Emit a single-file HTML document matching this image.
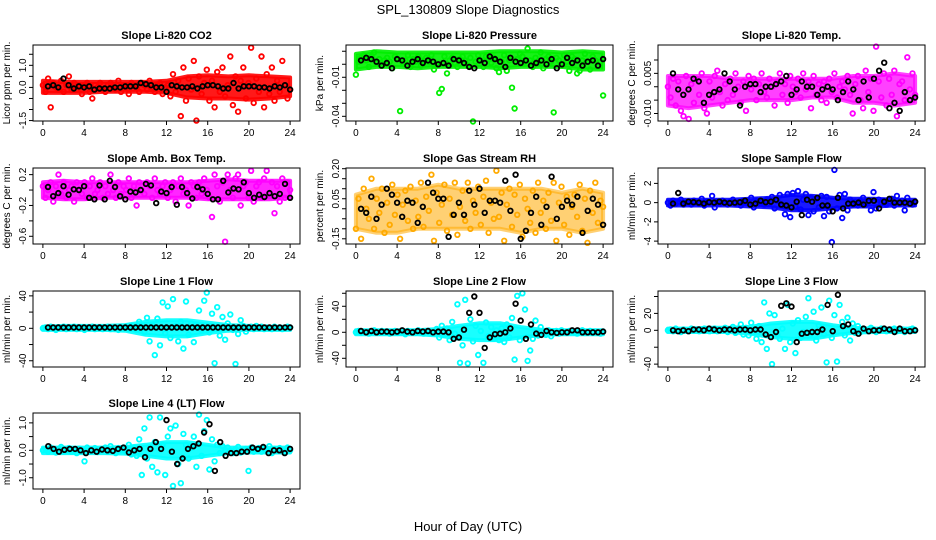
<!DOCTYPE html>
<html><head><meta charset="utf-8">
<style>
html,body{margin:0;padding:0;background:#fff;}
svg{display:block;font-family:"Liberation Sans",sans-serif;}
</style></head>
<body>
<svg id="chart" width="936" height="540" viewBox="0 0 936 540" xmlns="http://www.w3.org/2000/svg">
<text x="468" y="14" text-anchor="middle" font-size="13">SPL_130809  Slope Diagnostics</text>
<text x="468" y="531" text-anchor="middle" font-size="13">Hour of Day (UTC)</text>
<g id="panels"></g>
</svg>
<script>
const xTicks = [0,4,8,12,16,20,24];
const bandHours = [0,2,4,6,8,10,12,14,16,18,20,22,24];

const co2Col = [0.1,-0.2,0.4,-0.9,0.2,0,-0.1,0.3,-0.2,0.1,0.5,-0.1,0.2,-0.1,0,-0.3,0.1,0.2,-0.2,-0.5,0.1,0,0.2,-0.1,-0.2,0.1,0.2,0,-0.1,0.3,-0.2,0.1,0,-0.3,0.2,0.1,0,-0.2,0.2,0.1,-0.1,0.3,0,-0.2,0.1,0.2,-0.3,0,0.1,-0.4,0.6,-0.2,0.3,-1.3,0.9,-0.6,0.4,-0.1,1.2,-1.5,0.5,-0.3,0.2,0.8,-0.6,0.3,-0.9,0.7,-0.2,0.9,-0.4,0.1,1.4,-0.8,0.5,-1.1,0.3,0.9,-0.5,0.2,1.8,-0.7,0.4,-0.2,1.4,-0.9,0.6,-0.3,0.9,-0.6,0.3,-0.2,1.2,0.1,-0.5,-0.1];
const co2Blk = [0.05,0.1,0,0.4,0.1,-0.05,0.05,0,0.05,-0.1,-0.05,-0.05,-0.05,0,0,0.05,0.05,0.05,0.2,0.15,0.1,0,0,-0.2,0.1,0.05,0,0,0.05,-0.05,0.05,0.1,0.1,0.05,-0.05,-0.05,0.2,-0.05,0.05,0.05,0.05,0,0,-0.05,0.05,0,0.1,-0.1];
const co2Lo = [-0.25,-0.25,-0.25,-0.2,-0.2,-0.2,-0.25,-0.45,-0.5,-0.5,-0.55,-0.5,-0.4];
const co2Hi = [0.3,0.25,0.25,0.25,0.25,0.25,0.3,0.5,0.55,0.5,0.55,0.5,0.45];

const presCol = [-0.008,0.002,0.005,0.007,0.003,-0.002,0.006,0.009,0.001,0.004,-0.001,0.003,0.005,0.002,-0.003,0.006,0.004,-0.036,0.001,0.003,0.007,-0.002,0.004,0.002,0.006,-0.001,0.003,0.005,0.002,0.007,-0.004,0,-0.022,-0.019,0.006,-0.007,0.003,0.005,0.001,-0.002,0.004,0.006,0.003,-0.001,0.005,-0.044,0.002,0.007,0.003,-0.002,0.006,0.004,0.001,0.005,-0.003,-0.006,0.002,0.007,-0.005,0.003,-0.018,-0.034,0.004,0.008,0.006,0.002,0.012,0.003,-0.002,0.005,0.001,0.009,-0.003,0.004,0.006,0.002,-0.037,0.005,0.003,-0.001,0.007,0.002,-0.005,0.006,0.004,-0.007,-0.005,0.003,0.008,0.002,-0.004,0.006,0.003,-0.001,0.002,-0.024];
const presBlk = [0.003,0.005,0.004,0.002,-0.001,0.001,-0.003,0.004,0.003,-0.001,0.002,0.004,0.001,0.003,0.002,0,0.001,-0.001,0.004,0.003,0.001,-0.002,-0.003,0.003,0.001,0.006,0.004,0.002,-0.002,0.005,0.002,0.001,0.003,-0.001,0.001,0.003,0,0.004,-0.003,0,0.005,0.001,0.003,-0.001,0.002,0.003,-0.001,0.004];
const presLo = [-0.004,-0.002,-0.002,-0.003,-0.002,-0.002,-0.002,-0.003,-0.002,-0.002,-0.002,-0.004,-0.004];
const presHi = [0.008,0.01,0.009,0.009,0.009,0.009,0.009,0.01,0.01,0.01,0.009,0.01,0.009];

const tempCol = [0,-0.004,0.003,-0.007,0.002,-0.009,-0.011,0.004,-0.012,0.001,-0.006,0.003,-0.003,0.005,-0.008,-0.01,0.002,-0.004,0.004,0.006,-0.002,-0.007,0.001,-0.005,0.003,-0.003,0.005,0,-0.006,0.002,-0.009,0.004,-0.001,0.003,-0.005,0.001,0.005,-0.002,-0.004,0.003,0,-0.007,0.002,0.005,-0.003,0.001,-0.006,0.004,0,-0.002,0.003,-0.004,0.005,-0.001,0.002,-0.008,0.004,-0.003,0.001,-0.005,0.002,-0.006,0.003,-0.002,0.005,-0.004,0,0.002,-0.001,0.004,-0.003,-0.01,0.001,0.004,-0.005,-0.008,0.006,-0.002,0.003,-0.009,0.015,0.002,-0.004,0.005,-0.007,0.003,-0.003,0.006,-0.011,0.001,0.002,-0.005,0.011,-0.001,0.005,-0.003];
const tempBlk = [0.005,-0.001,-0.003,-0.001,0.003,0.002,-0.006,-0.003,-0.002,-0.001,0.005,0.002,-0.001,-0.007,0,0.001,0.001,-0.002,0,0,0.001,0.002,0.004,-0.003,-0.001,0.002,0,0,-0.003,-0.001,0,-0.001,-0.005,-0.002,0.002,-0.001,-0.005,0.002,-0.004,0.003,0.006,0.009,-0.008,-0.006,-0.009,-0.002,-0.005,-0.004];
const tempLo = [-0.007,-0.008,-0.007,-0.006,-0.005,-0.005,-0.005,-0.004,-0.004,-0.006,-0.006,-0.007,-0.006];
const tempHi = [0.004,0.004,0.004,0.003,0.003,0.003,0.003,0.003,0.003,0.004,0.004,0.005,0.004];

const ambCol = [0.05,-0.1,0,0.1,-0.15,0.05,0.2,-0.05,0.1,-0.1,0,0.05,-0.15,0.1,0,-0.05,0.1,-0.1,0.05,0.15,-0.05,0,0.1,-0.1,0.05,-0.05,0.2,0,-0.1,0.1,-0.05,0.05,0,0.15,-0.1,0.05,-0.2,0.1,0,-0.05,0.1,0.05,-0.1,0.15,0,-0.05,0.05,0.1,-0.1,0,0.1,-0.15,0.05,0.15,-0.05,0,-0.2,0.1,0.05,-0.1,0.1,-0.05,0.15,0,-0.1,-0.35,0.2,0.05,-0.15,0.1,-0.67,0.2,0,-0.1,0.15,0.2,-0.2,0.05,0.1,-0.1,0.25,-0.15,0.05,0.1,-0.1,0.15,0.25,-0.05,0.1,-0.3,0.05,-0.15,0.15,-0.1,0.1,0];
const ambBlk = [0.04,-0.08,-0.04,0.05,-0.06,0.01,0,0.05,-0.1,-0.12,0.06,-0.12,0.12,0.04,-0.08,-0.12,-0.02,-0.03,0,0.08,0.06,-0.17,-0.02,-0.04,0.04,-0.19,0.04,-0.04,-0.11,0.04,0.01,-0.05,-0.12,-0.12,0.12,-0.03,0.02,0.01,0.1,-0.04,-0.1,-0.06,-0.09,-0.04,-0.08,-0.05,0.08,-0.1];
const ambLo = [-0.1,-0.12,-0.12,-0.1,-0.1,-0.1,-0.1,-0.1,-0.12,-0.12,-0.12,-0.12,-0.1];
const ambHi = [0.1,0.12,0.1,0.1,0.1,0.1,0.1,0.1,0.12,0.14,0.12,0.12,0.12];

const rhCol = [-0.1,0.05,-0.15,0.1,0,-0.05,0.15,-0.1,0.05,-0.02,0.1,-0.12,0.03,-0.08,0.12,-0.03,0.07,-0.15,0.02,0.09,-0.06,0.11,-0.1,0.04,-0.04,0.13,-0.09,0.06,-0.01,0.17,-0.16,0.08,-0.07,0.02,0.12,-0.11,0.05,-0.03,0.13,-0.13,0.01,0.09,-0.06,0.13,-0.1,0.04,-0.02,0.11,-0.08,0.06,0.14,-0.12,0.03,-0.05,0.19,-0.04,0.08,-0.16,0.02,0.1,-0.09,0.07,-0.03,0.12,-0.14,0.05,0,-0.07,0.09,-0.12,0.13,-0.02,0.04,-0.1,0.08,-0.06,0.13,-0.16,0.03,0.11,-0.08,0.06,-0.13,0.01,0.07,-0.04,0.12,-0.11,0.05,-0.17,0.09,-0.02,0.13,-0.07,0.04,0.01];
const rhBlk = [0,-0.02,0.06,-0.05,0.02,0.1,0.07,0.03,-0.04,0.04,0.03,-0.07,0.01,0.13,0.08,0.05,0.05,-0.14,-0.03,0.03,-0.03,0.09,0.02,0.1,-0.02,0.04,0.04,0.03,0.14,-0.01,0.17,-0.15,-0.11,-0.02,0.06,-0.08,0.01,0.16,-0.05,0.01,0.04,0.02,0.06,-0.12,-0.01,0.05,0.02,-0.08];
const rhLo = [-0.1,-0.12,-0.12,-0.1,-0.1,-0.1,-0.1,-0.1,-0.12,-0.1,-0.1,-0.12,-0.1];
const rhHi = [0.07,0.1,0.1,0.1,0.12,0.1,0.1,0.1,0.1,0.1,0.08,0.1,0.08];

const flowCol = [0,-0.3,0.2,-0.1,0.1,0.3,-0.2,0,0.1,-0.2,0.2,0,-0.1,0.4,-0.3,0.1,0,0.7,-0.5,0.1,-0.1,0.2,0,-0.2,0.1,0.3,-0.1,0,-0.3,0.2,0.1,-0.1,0.5,-0.5,0.2,0,0.1,-0.2,0.3,-0.1,0.6,-0.6,0.2,0.8,-0.3,-1.2,0.9,-1.5,1.0,-0.4,1.2,-0.7,0.3,0.9,-1.3,0.5,-0.9,0.4,-0.5,0.7,-1.4,0.6,-0.9,-4.1,3.4,-0.6,0.8,-1.6,0.9,-0.8,0.3,-0.2,0.1,-0.3,0.2,0.5,-0.2,0.1,-0.8,1.1,-0.6,0.3,-0.1,0.2,-0.2,0.1,0.4,-0.3,0.7,-0.1,0.2,-0.8,0.5,0,-0.2,0.1];
const flowBlk = [-0.1,1.0,-0.1,0.1,0.05,0,-0.1,0.05,0,0.1,0,-0.05,0,0.05,0.2,-0.2,-0.1,0.2,0.05,0.1,0.3,-0.2,-0.3,-0.5,0.1,-1.3,0.3,0.1,0.5,-0.3,-0.3,-0.9,0.5,-0.6,-0.1,-0.1,0,-0.2,0.2,0.2,-0.6,0.1,0.4,0,0,0,-0.1,0.1];
const flowLo = [-0.3,-0.3,-0.3,-0.3,-0.4,-0.5,-0.8,-0.8,-0.6,-0.4,-0.4,-0.3,-0.3];
const flowHi = [0.3,0.3,0.3,0.3,0.4,0.5,0.8,0.7,0.5,0.4,0.4,0.3,0.3];

const line1Col = [0,1,-1,2,0,-2,1,0,2,-1,0,1,2,-1,0,1,-2,0,1,2,-1,0,1,-1,0,2,-1,1,0,-2,1,0,2,-1,3,0,-2,8,1,-5,13,-16,4,-33,12,-21,32,-6,27,-12,36,3,-16,8,-25,33,-8,6,-17,4,22,-2,34,44,-5,18,-43,26,-9,14,-14,6,17,-2,-44,-7,10,3,-4,1,2,-1,3,0,2,-1,1,0,-1,2,0,1,-1,0,2,1];
const line1Blk = [1,1,1,1,1,1,1,1,1,1,1,1,1,1,1,1,1,1,1,1,1,1,1,1,1,1,1,1,1,1,1,1,1,1,1,1,1,1,1,1,1,1,1,1,1,1,1,1];
const line1Lo = [-2,-2,-2,-2,-3,-8,-10,-10,-6,-3,-2,-2,-2];
const line1Hi = [2,3,3,3,4,8,10,10,7,4,3,2,2];

const line2Col = [0,2,-1,1,0,-2,1,3,0,-1,2,0,1,-2,0,2,-1,1,0,-3,2,0,1,-1,3,0,-2,1,2,-1,0,5,-8,10,-4,6,-12,16,-2,43,-47,-20,50,-48,20,-14,10,-35,2,-47,15,-6,8,-10,3,-12,6,-15,12,-8,22,-42,56,-12,60,35,-44,-28,-10,18,-5,8,2,-4,3,-6,1,2,-2,3,0,-1,2,1,0,-2,1,3,-1,0,2,-1,1,0,-2,1];
const line2Blk = [2,0,2,0,1,1,0,1,3,1,0,2,1,2,0,1,1,0,-10,-8,4,30,55,30,-24,-8,-3,-2,0,6,44,18,-10,12,-2,-4,2,0,-1,0,0,3,3,0,0,0,0,1];
const line2Lo = [-3,-3,-3,-3,-5,-10,-12,-12,-8,-4,-3,-3,-3];
const line2Hi = [3,3,3,3,5,10,14,14,8,4,3,3,3];

const line3Col = [0,1,-1,2,0,-2,1,0,-1,2,0,1,-1,0,2,1,-1,0,2,-1,1,0,3,-2,1,4,-3,2,7,-5,3,-6,9,-2,-10,5,-14,33,-22,20,-40,18,-5,-10,2,-22,30,-14,8,-27,12,-9,-2,16,38,-4,22,-12,6,27,-5,-38,35,-9,18,-37,30,10,-6,15,-12,8,-3,5,-2,2,0,-1,3,1,-2,0,2,1,-1,0,1,2,-1,0,1,-2,0,1,2,0];
const line3Blk = [0,-1,0,-1,1,1,0,2,1,0,1,1,0,1,1,0,1,1,-5,-8,-2,29,32,28,-14,-4,-3,-2,-2,1,30,-1,42,5,7,-1,-4,2,-1,0,0,2,1,-2,2,-1,-1,0];
const line3Lo = [-2,-2,-2,-2,-4,-8,-10,-10,-6,-3,-2,-2,-2];
const line3Hi = [2,2,3,3,4,8,10,10,6,3,2,2,2];

const line4Col = [0,0.05,-0.05,0.1,0,-0.08,0.05,0.12,-0.04,0,0.08,-0.05,0.03,-0.1,0.06,0,-0.4,0.1,-0.05,0.02,0.08,-0.06,0,0.05,0.1,-0.05,0.15,0,-0.1,0.08,0.02,0.1,-0.05,0.2,-0.15,0.1,-0.2,0.4,-0.9,0.8,-0.3,1.2,-0.6,0.3,-0.8,1.2,0.2,-0.9,0.5,0.8,-1.3,0.9,-0.5,-1.2,0.6,0.2,-0.3,0.1,0.5,-0.6,1.3,-0.2,0.7,1.1,-0.7,0.4,-0.4,0.2,-0.1,0.15,-0.05,0.1,0,-0.1,0.05,0.12,-0.08,0,0.05,-0.75,0.1,-0.05,0.02,0.08,-0.05,0.1,0,0.15,-0.1,0.05,-0.02,0.08,0,-0.05,0.1,0];
const line4Blk = [0.15,0.05,-0.05,0.02,0.05,0.05,0,-0.1,0,-0.05,0.03,0,-0.02,0.05,0.1,-0.08,0,0.05,-0.25,0.05,0.3,0.05,1.1,-0.05,-0.5,-0.3,0.05,0.15,0.25,0.65,0.95,-0.75,0.3,-0.2,-0.1,-0.1,-0.05,-0.05,0.1,0.05,0.12,-0.1,0,0,-0.1,0.05];
const line4Lo = [-0.1,-0.1,-0.1,-0.1,-0.12,-0.2,-0.3,-0.3,-0.2,-0.1,-0.08,-0.08,-0.08];
const line4Hi = [0.1,0.1,0.1,0.1,0.12,0.2,0.3,0.3,0.2,0.1,0.1,0.1,0.1];

const NS = "http://www.w3.org/2000/svg";
const colX = [33, 346, 658], rowY = [45, 168, 291, 413], PW = 267, PH = 76;
const panels = [
 {t:"Slope Li-820 CO2", yl:"Licor ppm per min.", c:0, r:0, d:[-1.52,1.92], ticks:[-1.5,-1,-0.5,0,0.5,1,1.5], labs:{"-1.5":"-1.5","0":"0.0","1":"1.0"}, col:"#ff0000", a:co2Col, b:co2Blk, lo:co2Lo, hi:co2Hi, op:0.9, name:"co2"},
 {t:"Slope Li-820 Pressure", yl:"kPa per min.", c:1, r:0, d:[-0.0436,0.0148], ticks:[-0.04,-0.03,-0.02,-0.01,0,0.01], labs:{"-0.04":"-0.04","-0.01":"-0.01"}, col:"#00ee00", a:presCol, b:presBlk, lo:presLo, hi:presHi, op:0.9, name:"pressure"},
 {t:"Slope Li-820 Temp.", yl:"degrees C per min.", c:2, r:0, d:[-0.0128,0.0156], ticks:[-0.01,-0.005,0,0.005,0.01], labs:{"-0.01":"-0.010","0.005":"0.005"}, col:"#ff00ff", a:tempCol, b:tempBlk, lo:tempLo, hi:tempHi, op:0.75, name:"temp"},
 {t:"Slope Amb. Box Temp.", yl:"degrees C per min.", c:0, r:1, d:[-0.70,0.286], ticks:[-0.6,-0.4,-0.2,0,0.2], labs:{"-0.6":"-0.6","-0.2":"-0.2","0.2":"0.2"}, col:"#ff00ff", a:ambCol, b:ambBlk, lo:ambLo, hi:ambHi, op:0.85, name:"amb-temp"},
 {t:"Slope Gas Stream RH", yl:"percent per min.", c:1, r:1, d:[-0.176,0.2035], ticks:[-0.15,-0.1,-0.05,0,0.05,0.1,0.15,0.2], labs:{"-0.15":"-0.15","0.05":"0.05","0.2":"0.20"}, col:"#ffaa00", a:rhCol, b:rhBlk, lo:rhLo, hi:rhHi, op:0.55, name:"rh"},
 {t:"Slope Sample Flow", yl:"ml/min per min.", c:2, r:1, d:[-4.3,3.6], ticks:[-4,-2,0,2], labs:{"-4":"-4","-2":"-2","0":"0","2":"2"}, col:"#0000ff", a:flowCol, b:flowBlk, lo:flowLo, hi:flowHi, op:0.9, name:"sample-flow"},
 {t:"Slope Line 1 Flow", yl:"ml/min per min.", c:0, r:2, d:[-47.7,46], ticks:[-40,-20,0,20,40], labs:{"-40":"-40","0":"0","40":"40"}, col:"#00ffff", a:line1Col, b:line1Blk, lo:line1Lo, hi:line1Hi, op:0.9, name:"line1"},
 {t:"Slope Line 2 Flow", yl:"ml/min per min.", c:1, r:2, d:[-53.4,63.5], ticks:[-40,-20,0,20,40,60], labs:{"-40":"-40","0":"0","40":"40"}, col:"#00ffff", a:line2Col, b:line2Blk, lo:line2Lo, hi:line2Hi, op:0.9, name:"line2"},
 {t:"Slope Line 3 Flow", yl:"ml/min per min.", c:2, r:2, d:[-43.4,46.5], ticks:[-40,-20,0,20,40], labs:{"-40":"-40","0":"0","20":"20"}, col:"#00ffff", a:line3Col, b:line3Blk, lo:line3Lo, hi:line3Hi, op:0.9, name:"line3"},
 {t:"Slope Line 4 (LT) Flow", yl:"ml/min per min.", c:0, r:3, d:[-1.41,1.36], ticks:[-1,-0.5,0,0.5,1], labs:{"-1":"-1.0","0":"0.0","1":"1.0"}, col:"#00ffff", a:line4Col, b:line4Blk, lo:line4Lo, hi:line4Hi, op:0.9, name:"line4"}
];
function mk(tag, attrs, parent){const e=document.createElementNS(NS,tag);for(const k in attrs)e.setAttribute(k,attrs[k]);parent.appendChild(e);return e;}
const root = document.getElementById("panels");
panels.forEach(p=>{
  const L=colX[p.c], T=rowY[p.r];
  const xs = v => L + (v + 0.96) / 25.92 * PW;
  const ys = v => T + PH - (v - p.d[0]) / (p.d[1] - p.d[0]) * PH;
  const g = mk("g",{},root);
  
  
  const tt = mk("text",{x:L+PW/2,y:T-6,"text-anchor":"middle","font-size":"11","font-weight":"bold"},g);
  tt.textContent = p.t;
  
  
  const yl = mk("text",{transform:`translate(${L-23},${T+PH/2}) rotate(-90)`,"text-anchor":"middle","font-size":"10"},g);
  yl.textContent = p.yl;
  
  
  // dense band envelope
  const pts = bandHours.map((h,i)=>xs(h).toFixed(1)+","+ys(p.hi[i]).toFixed(1))
    .concat(bandHours.map((h,i)=>xs(h).toFixed(1)+","+ys(p.lo[i]).toFixed(1)).reverse());
  const band = mk("polygon",{points:pts.join(" "),fill:p.col,"fill-opacity":p.op,stroke:p.col,"stroke-width":"4","stroke-linejoin":"round","stroke-opacity":p.op},g);
  
  
  const pg = mk("g",{fill:"none","stroke-width":"1.8"},g);
  
  
  p.a.forEach((v,i)=>{
    const x = i*24/(p.a.length-1);
    const c = mk("circle",{cx:xs(x).toFixed(1),cy:ys(v).toFixed(1),r:2.3,stroke:p.col},pg);
    
    
  });
  p.b.forEach((v,i)=>{
    const x = (i+1)*24/p.b.length;
    const c = mk("circle",{cx:xs(x).toFixed(1),cy:ys(v).toFixed(1),r:2.3,stroke:"#000"},pg);
    
    
  });
  const box = mk("rect",{x:L,y:T,width:PW,height:PH,fill:"none",stroke:"#000","stroke-width":"1"},g);
  
  
  xTicks.forEach(t=>{
    const X=xs(t);
    mk("line",{x1:X,y1:T+PH,x2:X,y2:T+PH+4,stroke:"#000"},g);
    const tx = mk("text",{x:X,y:T+PH+15,"text-anchor":"middle","font-size":"10"},g);
    tx.textContent = t;
    
    
  });
  p.ticks.forEach(t=>{
    const Y=ys(t);
    mk("line",{x1:L-4,y1:Y,x2:L,y2:Y,stroke:"#000"},g);
    const lab = p.labs[String(t)];
    if(lab!==undefined){
      const ty = mk("text",{transform:`translate(${L-7},${Y}) rotate(-90)`,"text-anchor":"middle","font-size":"10"},g);
      ty.textContent = lab;
      
      
    }
  });
});
</script>
</body></html>
